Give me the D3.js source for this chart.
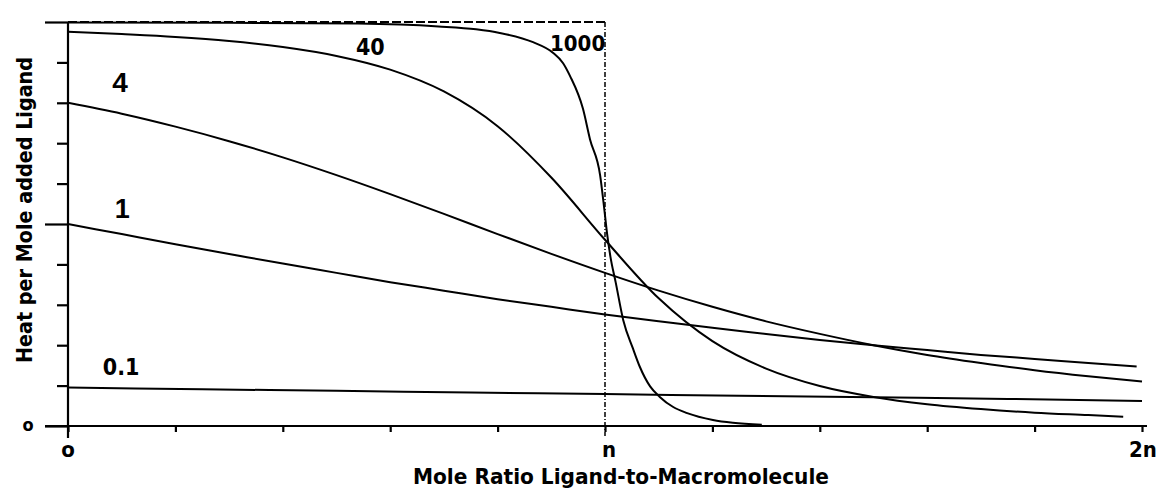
<!DOCTYPE html>
<html><head><meta charset="utf-8">
<script src="https://cdn.jsdelivr.net/npm/d3@7"></script>
<style>body{margin:0;background:#fff}svg{display:block}</style>
</head><body>
<svg id="chart" width="1161" height="490"></svg>
<script>
// ---- data ----
const xTickValues = [0,0.2,0.4,0.6,0.8,1,1.2,1.4,1.6,1.8,2];
const xTickLabels = ["o","n","2n"];
const xTickLabelValues = [0,1,2];
const yTickValues = [0,0.1,0.2,0.3,0.4,0.5,0.6,0.7,0.8,0.9,1];
const yLongTicks = [0,0.5,1];
const yTickLabels = ["o"];
const yTickLabelValues = [0];

const seriesNames = ["0.1","1","4","40","1000"];

const c01X = [0,0.25,0.5,0.75,1,1.25,1.5,1.75,2];
const c01Y = [0.095,0.091,0.087,0.083,0.079,0.075,0.071,0.067,0.062];

const c1X = [0,0.1,0.2,0.3,0.4,0.5,0.6,0.7,0.8,0.9,1,1.1,1.2,1.3,1.4,1.5,1.6,1.7,1.8,1.9,1.99];
const c1Y = [0.5,0.475,0.450,0.426,0.402,0.379,0.356,0.335,0.314,0.295,0.276,0.259,0.243,0.228,0.213,0.200,0.188,0.176,0.166,0.156,0.147];

const c4X = [0,0.1,0.2,0.3,0.4,0.5,0.6,0.7,0.8,0.9,1,1.1,1.2,1.3,1.4,1.5,1.6,1.7,1.8,1.9,2];
const c4Y = [0.8,0.773,0.741,0.705,0.665,0.621,0.574,0.525,0.475,0.426,0.379,0.335,0.295,0.259,0.228,0.2,0.176,0.156,0.138,0.123,0.110];

const c40X = [0,0.1,0.2,0.3,0.4,0.5,0.6,0.7,0.8,0.9,1,1.1,1.2,1.3,1.4,1.5,1.6,1.7,1.8,1.9,1.965];
const c40Y = [0.976,0.970,0.963,0.953,0.938,0.916,0.882,0.828,0.742,0.615,0.461,0.316,0.210,0.142,0.099,0.072,0.054,0.042,0.033,0.027,0.023];

const c1000X = [0,0.3,0.54,0.69,0.76,0.804,0.866,0.903,0.922,0.935,0.959,0.972,0.991,0.998,1.004,1.01,1.02,1.034,1.052,1.065,1.084,1.102,1.127,1.153,1.201,1.238,1.292];
const c1000Y = [0.999,0.998,0.996,0.989,0.982,0.973,0.950,0.924,0.898,0.866,0.785,0.710,0.620,0.545,0.475,0.420,0.355,0.262,0.192,0.146,0.098,0.072,0.047,0.032,0.015,0.008,0.003];

const idealX = [0,1,1];
const idealY = [1,1,0];

const xTitle = "Mole Ratio Ligand-to-Macromolecule";
const yTitle = "Heat per Mole added Ligand";

// ---- drawing ----
const svg = d3.select("#chart");
const x = d3.scaleLinear().domain([0,2]).range([68,1142]);
const y = d3.scaleLinear().domain([0,1]).range([426,22]);
const condensed = "'DejaVu Sans Condensed','Liberation Sans Narrow','DejaVu Sans',sans-serif";
const helv = "'Liberation Sans',Arial,sans-serif";

const zip = (a,b)=>a.map((v,i)=>[v,b[i]]);
const line = d3.line().x(d=>x(d[0])).y(d=>y(d[1])).curve(d3.curveMonotoneX);
const lineLin = d3.line().x(d=>x(d[0])).y(d=>y(d[1]));

// ideal step (dashed)
const ideal = zip(idealX, idealY);
svg.append("path").attr("d", lineLin(ideal.slice(0,2)))
  .attr("fill","none").attr("stroke","#000").attr("stroke-width",2)
  .attr("stroke-dasharray","9,3");
svg.append("path")
  .attr("d", `M${x(idealX[1])},${y(idealY[1])}L${x(idealX[2])},${y(idealY[2])+10}`)
  .attr("fill","none").attr("stroke","#000").attr("stroke-width",1.5)
  .attr("stroke-dasharray","5,2,1,2");

// axes ticks
const ya = svg.append("g").attr("transform",`translate(${x(0)},0)`)
  .call(d3.axisLeft(y).tickValues(yTickValues).tickSize(11).tickFormat(""));
ya.select(".domain").remove();
ya.selectAll(".tick line").attr("stroke","#000").attr("stroke-width",2.2)
  .attr("x2", d => yLongTicks.includes(d) ? -23 : -11);

const xa = svg.append("g").attr("transform",`translate(0,${y(0)})`)
  .call(d3.axisBottom(x).tickValues(xTickValues).tickSize(6).tickFormat(""));
xa.select(".domain").remove();
xa.selectAll(".tick line").attr("stroke","#000").attr("stroke-width",2.2);

// axis lines
svg.append("line").attr("x1",x(0)).attr("x2",x(0)).attr("y1",y(1)).attr("y2",y(0)+12)
  .attr("stroke","#000").attr("stroke-width",2.2);
svg.append("line").attr("x1",x(0)-23).attr("x2",x(2)+5).attr("y1",y(0)).attr("y2",y(0))
  .attr("stroke","#000").attr("stroke-width",2.2);

// curves
const seriesData = [zip(c01X,c01Y), zip(c1X,c1Y), zip(c4X,c4Y), zip(c40X,c40Y), zip(c1000X,c1000Y)];
svg.append("g").selectAll("path").data(seriesData).join("path")
  .attr("d", d=>line(d)).attr("fill","none").attr("stroke","#000").attr("stroke-width",2);

// tick labels
svg.selectAll("text.xl").data(xTickLabelValues).join("text").attr("class","xl")
  .attr("x", d=>x(d)+(d===2?1:(d===1?4:0))).attr("y", 457)
  .attr("text-anchor","middle").attr("font-family",condensed).attr("font-weight","bold")
  .attr("font-size",22).text((d,i)=>xTickLabels[i]);
svg.selectAll("text.yl").data(yTickLabelValues).join("text").attr("class","yl")
  .attr("x", 28).attr("y", d=>y(d)+5)
  .attr("text-anchor","middle").attr("font-family",condensed).attr("font-weight","bold")
  .attr("font-size",18).text((d,i)=>yTickLabels[i]);

// series labels
const labelPos = [[0.099,0.126,23,"cond"],[0.101,0.516,27,"helv"],[0.097,0.826,28,"helv"],[0.563,0.918,23,"cond"],[0.949,0.927,22,"cond"]];
svg.selectAll("text.sl").data(seriesNames).join("text").attr("class","sl")
  .attr("x",(d,i)=>x(labelPos[i][0])).attr("y",(d,i)=>y(labelPos[i][1]))
  .attr("text-anchor","middle").attr("font-weight","bold")
  .attr("font-family",(d,i)=>labelPos[i][3]==="helv"?helv:condensed)
  .attr("font-size",(d,i)=>labelPos[i][2]).text(d=>d);

// titles
svg.append("text").attr("x",621).attr("y",484).attr("text-anchor","middle")
  .attr("font-family",condensed).attr("font-weight","bold").attr("font-size",22)
  .attr("textLength",416).attr("lengthAdjust","spacingAndGlyphs").text(xTitle);
svg.append("text").attr("transform","translate(32,210) rotate(-90)").attr("text-anchor","middle")
  .attr("font-family",condensed).attr("font-weight","bold").attr("font-size",22)
  .attr("textLength",306).attr("lengthAdjust","spacingAndGlyphs").text(yTitle);
</script>
</body></html>
